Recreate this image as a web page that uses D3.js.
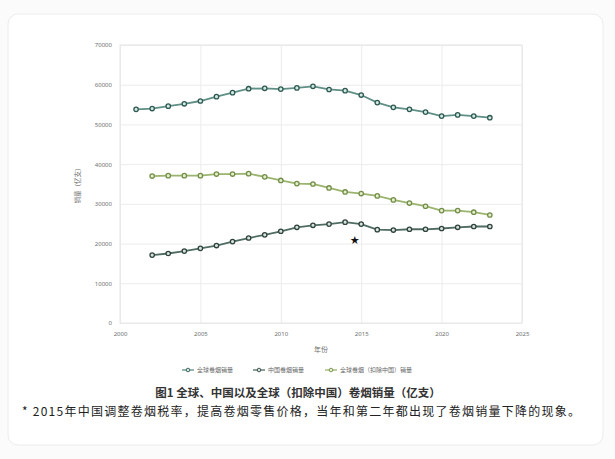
<!DOCTYPE html>
<html lang="zh">
<head>
<meta charset="utf-8">
<title>全球、中国以及全球（扣除中国）卷烟销量</title>
<script src="https://cdnjs.cloudflare.com/ajax/libs/d3/7.8.5/d3.min.js"></script>
<style>
  body { margin: 0; background: #fbfbfb; font-family: "Noto Sans CJK SC", "Noto Sans", sans-serif; }
  .tick text { fill: #707070; font-size: 6px; font-family: "Noto Sans", sans-serif; }
  .grid line { stroke: #ececec; }
  .grid path { display: none; }
</style>
</head>
<body>
<div id="chart"></div>
<script>
// values (亿支)
const globalYears = [2001, 2002, 2003, 2004, 2005, 2006, 2007, 2008, 2009, 2010, 2011, 2012,
                     2013, 2014, 2015, 2016, 2017, 2018, 2019, 2020, 2021, 2022, 2023];
const globalSales = [53800, 54000, 54600, 55200, 55900, 57000, 58000, 59000, 59100, 58900, 59200, 59600,
                     58800, 58500, 57400, 55500, 54300, 53800, 53100, 52100, 52400, 52100, 51700];
const chinaYears = [2002, 2003, 2004, 2005, 2006, 2007, 2008, 2009, 2010, 2011, 2012,
                    2013, 2014, 2015, 2016, 2017, 2018, 2019, 2020, 2021, 2022, 2023];
const chinaSales = [17100, 17500, 18100, 18800, 19500, 20500, 21400, 22200, 23100, 24100, 24600,
                    24900, 25400, 24900, 23500, 23400, 23600, 23600, 23800, 24100, 24300, 24300];
const exclSales  = [37000, 37100, 37100, 37100, 37500, 37500, 37600, 36800, 35900, 35100, 35000,
                    34000, 33000, 32600, 32000, 31000, 30200, 29400, 28300, 28300, 27900, 27200];
const seriesNames = ["全球卷烟销量", "中国卷烟销量", "全球卷烟（扣除中国）销量"];
const xTicks = [2000, 2005, 2010, 2015, 2020, 2025];
const yTicks = [0, 10000, 20000, 30000, 40000, 50000, 60000, 70000];
const noteYear = 2014.6, noteValue = 21100;

const W = 615, H = 459;
const svg = d3.select("#chart").append("svg").attr("width", W).attr("height", H);

// card
svg.append("rect").attr("x", 8).attr("y", 14).attr("width", 595).attr("height", 431)
   .attr("rx", 10).attr("fill", "#fff").attr("stroke", "#ececec");

const x = d3.scaleLinear().domain([2000, 2025]).range([120, 522]);
const y = d3.scaleLinear().domain([0, 70000]).range([323, 45]);

// grid
svg.append("g").attr("class", "grid").attr("transform", "translate(0,323)")
   .call(d3.axisBottom(x).tickValues(xTicks).tickSize(-278).tickFormat(""));
svg.append("g").attr("class", "grid").attr("transform", "translate(120,0)")
   .call(d3.axisLeft(y).tickValues(yTicks).tickSize(-402).tickFormat(""));
svg.append("rect").attr("x", 120).attr("y", 45).attr("width", 402).attr("height", 278)
   .attr("fill", "none").attr("stroke", "#e6e6e6");

// axes labels
const xAxis = svg.append("g").attr("transform", "translate(0,323)")
   .call(d3.axisBottom(x).tickValues(xTicks).tickSize(0).tickPadding(9).tickFormat(d3.format("d")));
xAxis.select(".domain").remove();
const yAxis = svg.append("g").attr("transform", "translate(120,0)")
   .call(d3.axisLeft(y).tickValues(yTicks).tickSize(0).tickPadding(8).tickFormat(d3.format("d")));
yAxis.select(".domain").remove();

svg.append("text").attr("x", 321).attr("y", 352).attr("text-anchor", "middle")
   .attr("font-size", 7).attr("fill", "#707070").text("年份");
svg.append("text").attr("transform", "translate(80,184) rotate(-90)").attr("text-anchor", "middle")
   .attr("font-size", 6.5).attr("fill", "#707070").text("销量（亿支）");

const series = [
  { name: seriesNames[0], years: globalYears, vals: globalSales, line: "#5f8f85", mark: "#2f5a52", fill: "#d3e9e3" },
  { name: seriesNames[1], years: chinaYears,  vals: chinaSales,  line: "#4f6c63", mark: "#2f433c", fill: "#d8e3de" },
  { name: seriesNames[2], years: chinaYears,  vals: exclSales,   line: "#9ab46e", mark: "#738e4a", fill: "#e6efcc" }
];

const line = d3.line().x(d => x(d[0])).y(d => y(d[1]));
series.forEach(s => {
  const pts = s.years.map((yr, i) => [yr, s.vals[i]]);
  svg.append("path").datum(pts).attr("d", line).attr("fill", "none")
     .attr("stroke", s.line).attr("stroke-width", 1.8);
  svg.selectAll(null).data(pts).enter().append("circle")
     .attr("cx", d => x(d[0])).attr("cy", d => y(d[1])).attr("r", 2.2)
     .attr("fill", s.fill).attr("stroke", s.mark).attr("stroke-width", 1.3);
});

// star note
svg.append("text").attr("x", x(noteYear)).attr("y", y(noteValue) + 3.5).attr("text-anchor", "middle")
   .attr("font-size", 9).attr("fill", "#111").text("★");

// legend
const legendX = [182, 253, 325];
const lg = svg.selectAll(".legend").data(series).enter().append("g")
   .attr("class", "legend").attr("transform", (d, i) => "translate(" + legendX[i] + ",370)");
lg.append("line").attr("x1", 0).attr("x2", 12).attr("stroke", d => d.line).attr("stroke-width", 1.3);
lg.append("circle").attr("cx", 6).attr("r", 1.8).attr("fill", d => d.fill).attr("stroke", d => d.mark).attr("stroke-width", 0.9);
lg.append("text").attr("x", 15).attr("y", 2.2).attr("font-size", 6).attr("fill", "#666").text(d => d.name);

// caption and footnote
svg.append("text").attr("x", 298).attr("y", 397).attr("text-anchor", "middle")
   .attr("font-size", 11.5).attr("font-weight", "bold").attr("fill", "#333")
   .text("图1 全球、中国以及全球（扣除中国）卷烟销量（亿支）");
svg.append("text").attr("x", 22).attr("y", 416).attr("font-size", 12).attr("fill", "#222")
   .attr("textLength", 558).attr("lengthAdjust", "spacing")
   .text("* 2015年中国调整卷烟税率，提高卷烟零售价格，当年和第二年都出现了卷烟销量下降的现象。");
</script>
</body>
</html>
